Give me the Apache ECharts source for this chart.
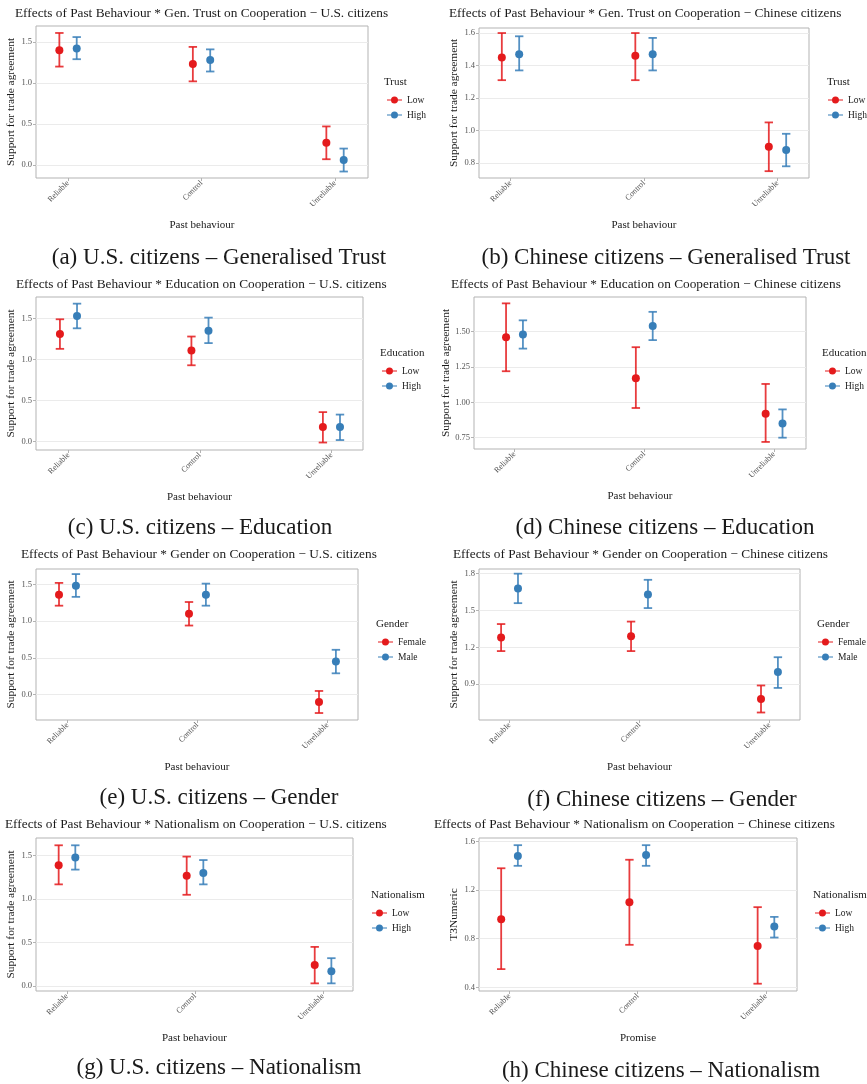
<!DOCTYPE html>
<html><head><meta charset="utf-8">
<script src="https://cdn.jsdelivr.net/npm/echarts@6/dist/echarts.min.js"></script>
<style>html,body{margin:0;padding:0;background:#fff}#c{width:867px;height:1084px}</style>
</head><body><div id="c"></div>
<script>
// ---------- data (mean, lower CI, upper CI) per past-behaviour category ----------
const categories = ['Reliable', 'Control', 'Unreliable'];

const usTrustLow  = [[1.40, 1.20, 1.61], [1.23, 1.02, 1.44], [0.27, 0.07, 0.47]];
const usTrustHigh = [[1.42, 1.29, 1.56], [1.28, 1.14, 1.41], [0.06, -0.08, 0.20]];
const cnTrustLow  = [[1.45, 1.31, 1.60], [1.46, 1.31, 1.60], [0.90, 0.75, 1.05]];
const cnTrustHigh = [[1.47, 1.37, 1.58], [1.47, 1.37, 1.57], [0.88, 0.78, 0.98]];
const usEduLow    = [[1.31, 1.13, 1.49], [1.11, 0.93, 1.28], [0.18, -0.01, 0.36]];
const usEduHigh   = [[1.53, 1.38, 1.68], [1.35, 1.20, 1.51], [0.18, 0.02, 0.33]];
const cnEduLow    = [[1.46, 1.22, 1.70], [1.17, 0.96, 1.39], [0.92, 0.72, 1.13]];
const cnEduHigh   = [[1.48, 1.38, 1.58], [1.54, 1.44, 1.64], [0.85, 0.75, 0.95]];
const usGenFemale = [[1.36, 1.21, 1.52], [1.10, 0.94, 1.26], [-0.10, -0.25, 0.05]];
const usGenMale   = [[1.48, 1.33, 1.64], [1.36, 1.21, 1.51], [0.45, 0.29, 0.61]];
const cnGenFemale = [[1.28, 1.17, 1.39], [1.29, 1.17, 1.41], [0.78, 0.67, 0.89]];
const cnGenMale   = [[1.68, 1.56, 1.80], [1.63, 1.52, 1.75], [1.00, 0.87, 1.12]];
const usNatLow    = [[1.39, 1.17, 1.62], [1.27, 1.05, 1.49], [0.24, 0.03, 0.45]];
const usNatHigh   = [[1.48, 1.34, 1.62], [1.30, 1.17, 1.45], [0.17, 0.03, 0.32]];
const cnNatLow    = [[0.96, 0.55, 1.38], [1.10, 0.75, 1.45], [0.74, 0.43, 1.06]];
const cnNatHigh   = [[1.48, 1.40, 1.57], [1.49, 1.40, 1.57], [0.90, 0.81, 0.98]];

// tick labels
const usTicks      = [0, 0.5, 1.0, 1.5];
const cnTrustTicks = [0.8, 1.0, 1.2, 1.4, 1.6];
const cnEduTicks   = [0.75, 1.00, 1.25, 1.50];
const cnGenTicks   = [0.9, 1.2, 1.5, 1.8];
const cnNatTicks   = [0.4, 0.8, 1.2, 1.6];

const groupsTrust = ['Low', 'High'];
const groupsGender = ['Female', 'Male'];

// ---------- layout / style ----------
const RED = '#E41A1C', BLUE = '#377EB8';
const SERIF = '"Liberation Serif", "Times New Roman", serif';
const DODGE = 0.065;
const YNAME = 'Support for trade agreement';
const XNAME = 'Past behaviour';

const panels = [
  {title: 'Effects of Past Behaviour * Gen. Trust on Cooperation \u2212 U.S. citizens', tx: 15, ty: 14,
   caption: '(a) U.S. citizens \u2013 Generalised Trust', cx: 219, cy: 258,
   grid: [36, 26, 332, 152], xr: [0.760, 3.247], yr: [-0.159, 1.695], ticks: usTicks, dec: 1,
   yName: YNAME, xName: XNAME, legTitle: 'Trust', groups: groupsTrust, data: [usTrustLow, usTrustHigh],
   lt: [384, 82], ll: [387, 95]},
  {title: 'Effects of Past Behaviour * Gen. Trust on Cooperation \u2212 Chinese citizens', tx: 449, ty: 14,
   caption: '(b) Chinese citizens \u2013 Generalised Trust', cx: 666, cy: 258,
   grid: [479, 28, 330, 150], xr: [0.764, 3.236], yr: [0.708, 1.631], ticks: cnTrustTicks, dec: 1,
   yName: YNAME, xName: XNAME, legTitle: 'Trust', groups: groupsTrust, data: [cnTrustLow, cnTrustHigh],
   lt: [827, 82], ll: [828, 95]},
  {title: 'Effects of Past Behaviour * Education on Cooperation \u2212 U.S. citizens', tx: 16, ty: 285,
   caption: '(c) U.S. citizens \u2013 Education', cx: 200, cy: 528,
   grid: [36, 297, 327, 153], xr: [0.753, 3.240], yr: [-0.101, 1.761], ticks: usTicks, dec: 1,
   yName: YNAME, xName: XNAME, legTitle: 'Education', groups: groupsTrust, data: [usEduLow, usEduHigh],
   lt: [380, 353], ll: [382, 366]},
  {title: 'Effects of Past Behaviour * Education on Cooperation \u2212 Chinese citizens', tx: 451, ty: 285,
   caption: '(d) Chinese citizens \u2013 Education', cx: 665, cy: 528,
   grid: [474, 297, 332, 152], xr: [0.688, 3.246], yr: [0.670, 1.745], ticks: cnEduTicks, dec: 2,
   yName: YNAME, xName: XNAME, legTitle: 'Education', groups: groupsTrust, data: [cnEduLow, cnEduHigh],
   lt: [822, 353], ll: [825, 366]},
  {title: 'Effects of Past Behaviour * Gender on Cooperation \u2212 U.S. citizens', tx: 21, ty: 555,
   caption: '(e) U.S. citizens \u2013 Gender', cx: 219, cy: 798,
   grid: [36, 569, 322, 151], xr: [0.758, 3.235], yr: [-0.345, 1.709], ticks: usTicks, dec: 1,
   yName: YNAME, xName: XNAME, legTitle: 'Gender', groups: groupsGender, data: [usGenFemale, usGenMale],
   lt: [376, 624], ll: [378, 637]},
  {title: 'Effects of Past Behaviour * Gender on Cooperation \u2212 Chinese citizens', tx: 453, ty: 555,
   caption: '(f) Chinese citizens \u2013 Gender', cx: 662, cy: 800,
   grid: [479, 569, 321, 151], xr: [0.765, 3.235], yr: [0.609, 1.838], ticks: cnGenTicks, dec: 1,
   yName: YNAME, xName: XNAME, legTitle: 'Gender', groups: groupsGender, data: [cnGenFemale, cnGenMale],
   lt: [817, 624], ll: [818, 637]},
  {title: 'Effects of Past Behaviour * Nationalism on Cooperation \u2212 U.S. citizens', tx: 5, ty: 825,
   caption: '(g) U.S. citizens \u2013 Nationalism', cx: 219, cy: 1068,
   grid: [36, 838, 317, 153], xr: [0.758, 3.234], yr: [-0.058, 1.704], ticks: usTicks, dec: 1,
   yName: YNAME, xName: XNAME, legTitle: 'Nationalism', groups: groupsTrust, data: [usNatLow, usNatHigh],
   lt: [371, 895], ll: [372, 908]},
  {title: 'Effects of Past Behaviour * Nationalism on Cooperation \u2212 Chinese citizens', tx: 434, ty: 825,
   caption: '(h) Chinese citizens \u2013 Nationalism', cx: 661, cy: 1071,
   grid: [479, 838, 318, 153], xr: [0.762, 3.242], yr: [0.370, 1.629], ticks: cnNatTicks, dec: 1,
   yName: 'T3Numeric', xName: 'Promise', legTitle: 'Nationalism', groups: groupsTrust, data: [cnNatLow, cnNatHigh],
   lt: [813, 895], ll: [815, 908]}
];

const COLORS = [RED, BLUE];
const LEG_ICON = 'path://M0,3.4L15,3.4L15,4.6L0,4.6Z M7.5,0.5A3.5,3.5,0,1,1,7.49,0.5Z';

function errRender(params, api) {
  const x = api.value(0), lo = api.value(1), hi = api.value(2);
  const pT = api.coord([x, hi]), pB = api.coord([x, lo]);
  const cw = 4.2;
  const st = {stroke: api.visual('color'), lineWidth: 1.8, opacity: 0.85};
  return {type: 'group', children: [
    {type: 'line', shape: {x1: pT[0], y1: pT[1], x2: pB[0], y2: pB[1]}, style: st},
    {type: 'line', shape: {x1: pT[0] - cw, y1: pT[1], x2: pT[0] + cw, y2: pT[1]}, style: st},
    {type: 'line', shape: {x1: pB[0] - cw, y1: pB[1], x2: pB[0] + cw, y2: pB[1]}, style: st}
  ]};
}

const grids = [], xAxes = [], yAxes = [], series = [], legends = [], graphics = [];

panels.forEach((p, i) => {
  grids.push({left: p.grid[0], top: p.grid[1], width: p.grid[2], height: p.grid[3],
    show: true, borderColor: '#b3b3b3', borderWidth: 1, backgroundColor: '#fff',
    containLabel: false, outerBoundsMode: 'none'});
  xAxes.push({type: 'value', gridIndex: i, min: p.xr[0], max: p.xr[1], position: 'bottom',
    name: p.xName, nameLocation: 'middle', nameGap: 42,
    nameTextStyle: {fontFamily: SERIF, fontSize: 11, color: '#1a1a1a'},
    axisLine: {show: false, onZero: false},
    axisTick: {show: true, customValues: [1, 2, 3], length: 3, lineStyle: {color: '#b3b3b3'}},
    axisLabel: {customValues: [1, 2, 3], rotate: 45, margin: 4, fontFamily: SERIF, fontSize: 8, color: '#555',
      formatter: v => categories[Math.round(v) - 1]},
    splitLine: {show: false}});
  yAxes.push({type: 'value', gridIndex: i, min: p.yr[0], max: p.yr[1], position: 'left',
    name: p.yName, nameLocation: 'middle', nameGap: 19,
    nameTextStyle: {fontFamily: SERIF, fontSize: 11.4, color: '#1a1a1a'},
    axisLine: {show: false, onZero: false},
    axisTick: {show: true, customValues: p.ticks, length: 3, lineStyle: {color: '#b3b3b3'}},
    axisLabel: {customValues: p.ticks, margin: 4, fontFamily: SERIF, fontSize: 8.5, color: '#555',
      formatter: v => v.toFixed(p.dec)},
    splitLine: {show: true, lineStyle: {color: '#ebebeb', width: 1}}});

  p.groups.forEach((g, k) => {
    const off = (k === 0 ? -DODGE : DODGE);
    const rows = p.data[k];
    series.push({type: 'custom', name: g, xAxisIndex: i, yAxisIndex: i,
      itemStyle: {color: COLORS[k]}, renderItem: errRender, silent: true,
      encode: {x: 0, y: [1, 2]},
      data: rows.map((r, c) => [c + 1 + off, r[1], r[2]])});
    series.push({type: 'scatter', name: g, xAxisIndex: i, yAxisIndex: i,
      symbol: 'circle', symbolSize: 8, itemStyle: {color: COLORS[k], opacity: 1}, z: 5, silent: true,
      data: rows.map((r, c) => [c + 1 + off, r[0]])});
  });

  legends.push({orient: 'vertical', left: p.ll[0], top: p.ll[1], itemWidth: 15, itemHeight: 8, itemGap: 5,
    icon: LEG_ICON, selectedMode: false, padding: 0,
    textStyle: {fontFamily: SERIF, fontSize: 9.5, color: '#1a1a1a'},
    data: p.groups.map((g, k) => ({name: g, itemStyle: {color: COLORS[k]}}))});

  graphics.push({type: 'text', x: p.tx, y: p.ty, style: {text: p.title, font: '13.3px ' + SERIF,
    fill: '#1a1a1a', align: 'left', verticalAlign: 'middle'}});
  graphics.push({type: 'text', x: p.cx, y: p.cy, style: {text: p.caption, font: '23px ' + SERIF,
    fill: '#1a1a1a', align: 'center', verticalAlign: 'middle'}});
  graphics.push({type: 'text', x: p.lt[0], y: p.lt[1], style: {text: p.legTitle, font: '11px ' + SERIF,
    fill: '#1a1a1a', align: 'left', verticalAlign: 'middle'}});
});

const chart = echarts.init(document.getElementById('c'), null, {renderer: 'canvas'});
chart.setOption({
  animation: false,
  backgroundColor: '#fff',
  grid: grids, xAxis: xAxes, yAxis: yAxes, series: series, legend: legends,
  graphic: {elements: graphics}
});
</script></body></html>
